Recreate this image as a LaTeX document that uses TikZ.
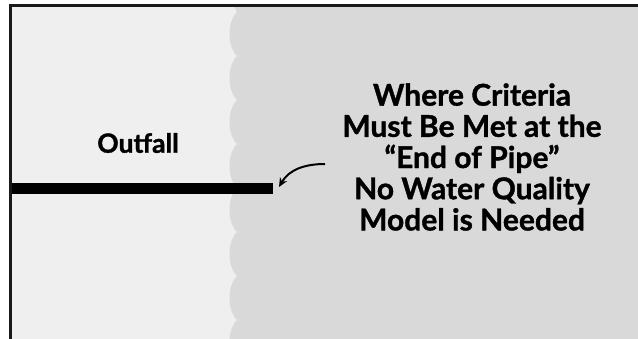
\documentclass[tikz,border=0pt]{standalone}
\usepackage{fontspec}
\setmainfont{Lato}[BoldFeatures={FakeBold=1.2}]
\usepackage{xcolor}
\usetikzlibrary{arrows.meta}

\definecolor{shore}{HTML}{EFEFEF}
\definecolor{seawater}{HTML}{D9D9D9}

\tikzset{
  label text/.style={font=\bfseries\fontsize{26.5}{30}\selectfont, align=center, inner sep=0pt},
  big text/.style={font=\bfseries\fontsize{30}{31.2}\selectfont, align=center, inner sep=0pt},
  pipe/.style={fill=black, minimum width=261pt, minimum height=11pt, inner sep=0pt, outer sep=0pt},
  callout/.style={line width=2pt, -{Stealth[length=9pt,width=8pt]}}
}

\begin{document}
\begin{tikzpicture}[x=1pt,y=-1pt]
      \useasboundingbox (0,0) rectangle (638,339);
      \fill [white] (0,0) rectangle (638,339);
      \fill [shore] (12,7) rectangle (638,339);

      % receiving water with wavy edge
      \begin{scope}
        \clip (0,7) rectangle (638,339);
        \fill [seawater] (638,7) -- (234,7) -- (237,12)
          \foreach \k [evaluate=\k as \yc using 12+44*\k] in {0,...,7} {
            .. controls (227,\yc+10) and (227,\yc+34) .. (237,\yc+44)
          } -- (638,364) -- cycle;
      \end{scope}

      % outfall pipe
      \node [pipe] (pipe) at (142.5,188.5) {};

      % frame
      \draw [line width=3pt, black!90] (10.5,339) -- (10.5,5.5) -- (638,5.5);

      \node [label text] (outfall) at (138,143) {Outfall};
      \node [big text] (criteria) at (472,157) {Where Criteria\\Must Be Met at the\\``End of Pipe''\\No Water Quality\\Model is Needed};

      \coordinate (tail) at (325,164);
      \draw [callout] (tail) to[out=180,in=60] ([xshift=6pt,yshift=-4pt]pipe.north east);
\end{tikzpicture}
\end{document}
